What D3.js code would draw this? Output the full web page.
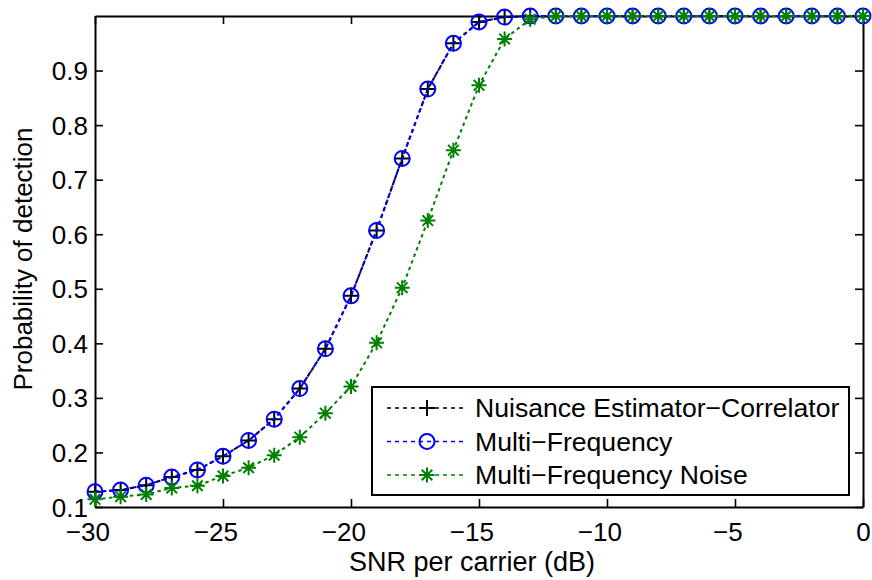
<!DOCTYPE html>
<html>
<head>
<meta charset="utf-8">
<script src="https://cdn.jsdelivr.net/npm/d3@7"></script>
<style>
  body { margin: 0; background: #fff; }
  text { font-family: "Liberation Sans", Arial, Helvetica, sans-serif; }
</style>
</head>
<body>
<script>
// SNR values (dB)
var snr = [-30, -29, -28, -27, -26, -25, -24, -23, -22, -21, -20, -19, -18, -17, -16, -15,
           -14, -13, -12, -11, -10, -9, -8, -7, -6, -5, -4, -3, -2, -1, 0];

var nuisance = [0.128, 0.131, 0.140, 0.155, 0.168, 0.193, 0.222, 0.261, 0.317, 0.390, 0.487,
                0.607, 0.739, 0.866, 0.950, 0.989, 0.998, 1, 1, 1, 1, 1, 1, 1, 1, 1, 1, 1, 1, 1, 1];
var multiFreq = [0.128, 0.131, 0.140, 0.155, 0.168, 0.193, 0.222, 0.261, 0.317, 0.390, 0.487,
                 0.607, 0.739, 0.866, 0.950, 0.989, 0.998, 1, 1, 1, 1, 1, 1, 1, 1, 1, 1, 1, 1, 1, 1];
var multiFreqNoise = [0.114, 0.119, 0.123, 0.135, 0.139, 0.157, 0.172, 0.195, 0.228, 0.272, 0.321,
                      0.401, 0.502, 0.625, 0.754, 0.873, 0.958, 0.994, 1, 1, 1, 1, 1, 1, 1, 1, 1, 1, 1, 1, 1];

var xTicks = [-30, -25, -20, -15, -10, -5, 0];
var yTicks = [0.1, 0.2, 0.3, 0.4, 0.5, 0.6, 0.7, 0.8, 0.9];
var legendLabels = ["Nuisance Estimator\u2212Correlator", "Multi\u2212Frequency", "Multi\u2212Frequency Noise"];

var width = 872, height = 580;
var margin = {top: 16, right: 9, bottom: 73, left: 95};

var svg = d3.select("body").append("svg")
    .attr("width", width)
    .attr("height", height);

var x = d3.scaleLinear().domain([-30, 0]).range([margin.left, width - margin.right]);
var y = d3.scaleLinear().domain([0.1, 1]).range([height - margin.bottom, margin.top]);

var fontSize = 26;
var minus = function(d) { return d < 0 ? "\u2212" + Math.abs(d) : String(d); };

// axes (MATLAB style box, ticks inward)
var gx = svg.append("g")
    .attr("transform", "translate(0," + y(0.1) + ")")
    .call(d3.axisBottom(x).tickValues(xTicks).tickSizeInner(-8).tickSizeOuter(0).tickPadding(16).tickFormat(minus));
var gxTop = svg.append("g")
    .attr("transform", "translate(0," + y(1) + ")")
    .call(d3.axisTop(x).tickValues(xTicks).tickSizeInner(-8).tickSizeOuter(0).tickFormat(""));
var gy = svg.append("g")
    .attr("transform", "translate(" + x(-30) + ",0)")
    .call(d3.axisLeft(y).tickValues(yTicks).tickSizeInner(-8).tickSizeOuter(0).tickPadding(7).tickFormat(d3.format(".1f")));
var gyRight = svg.append("g")
    .attr("transform", "translate(" + x(0) + ",0)")
    .call(d3.axisRight(y).tickValues(yTicks).tickSizeInner(-8).tickSizeOuter(0).tickFormat(""));

[gx, gxTop, gy, gyRight].forEach(function(g) {
  g.select(".domain").attr("stroke", "#000").attr("stroke-width", 2);
  g.selectAll(".tick line").attr("stroke", "#000").attr("stroke-width", 1.6);
  g.selectAll(".tick text")
    .attr("fill", "#000")
    .style("font-size", fontSize + "px")
    .style("font-family", "Liberation Sans, Arial, sans-serif");
});
// digits centred on the tick, the minus sign hangs to the left
gx.selectAll(".tick text")
    .attr("dy", "0.71em")
    .attr("dx", function(d) { return d < 0 ? "-0.292em" : 0; });
gy.selectAll(".tick text").attr("dy", "0.35em");

// axis titles
svg.append("text")
    .attr("x", 472)
    .attr("y", 571)
    .attr("text-anchor", "middle")
    .style("font-size", "27px")
    .text("SNR per carrier (dB)");

svg.append("text")
    .attr("transform", "translate(32," + 259 + ") rotate(-90)")
    .attr("text-anchor", "middle")
    .style("font-size", fontSize + "px")
    .text("Probability of detection");

// series
var series = [
  {values: nuisance, color: "#000", marker: "plus", dash: "3.5,3.5"},
  {values: multiFreq, color: "#0000ff", marker: "circle", dash: "4,3.5"},
  {values: multiFreqNoise, color: "#008000", marker: "star", dash: "3.5,3.5"}
];

var line = d3.line()
    .x(function(d) { return x(d[0]); })
    .y(function(d) { return y(d[1]); });

function drawMarker(g, type, color) {
  if (type === "plus") {
    g.append("path").attr("d", "M-8,0H8M0,-8V8")
      .attr("stroke", color).attr("stroke-width", 2).attr("fill", "none");
  } else if (type === "circle") {
    g.append("circle").attr("r", 7.5)
      .attr("stroke", color).attr("stroke-width", 2).attr("fill", "none");
  } else {
    g.append("path").attr("d", "M-7.5,0H7.5M0,-7.5V7.5M-5.3,-5.3L5.3,5.3M-5.3,5.3L5.3,-5.3")
      .attr("stroke", color).attr("stroke-width", 2).attr("fill", "none");
  }
}

series.forEach(function(s) {
  var pts = snr.map(function(v, i) { return [v, s.values[i]]; });
  svg.append("path")
      .attr("d", line(pts))
      .attr("fill", "none")
      .attr("stroke", s.color)
      .attr("stroke-width", 2)
      .attr("stroke-dasharray", s.dash);
  svg.append("g").selectAll("g")
      .data(pts)
    .enter().append("g")
      .attr("transform", function(d) { return "translate(" + x(d[0]) + "," + y(d[1]) + ")"; })
      .each(function() { drawMarker(d3.select(this), s.marker, s.color); });
});

// legend
var legend = svg.append("g").attr("transform", "translate(372,387)");
legend.append("rect")
    .attr("width", 477).attr("height", 108)
    .attr("fill", "#fff").attr("stroke", "#000").attr("stroke-width", 2);

series.forEach(function(s, i) {
  var ly = 21 + i * 33.5;
  legend.append("line")
      .attr("x1", 15).attr("x2", 91).attr("y1", ly).attr("y2", ly)
      .attr("stroke", s.color).attr("stroke-width", 1.5).attr("stroke-dasharray", "4,4");
  var m = legend.append("g").attr("transform", "translate(55," + ly + ")");
  drawMarker(m, s.marker, s.color);
  legend.append("text")
      .attr("x", 103).attr("y", ly).attr("dy", "0.35em")
      .style("font-size", "26.6px")
      .text(legendLabels[i]);
});
</script>
</body>
</html>
